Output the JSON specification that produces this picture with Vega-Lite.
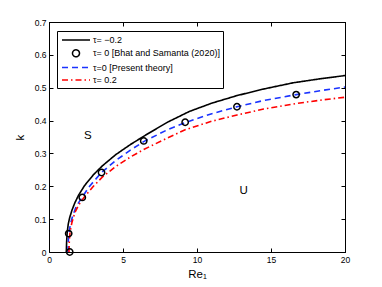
{
  "$schema": "https://vega.github.io/schema/vega-lite/v6.json",
  "width": 296,
  "height": 230,
  "autosize": "none",
  "padding": {"left": 49, "top": 22, "right": 37, "bottom": 35},
  "background": "white",
  "config": {
    "font": "Liberation Sans",
    "view": {"stroke": "black", "strokeWidth": 1},
    "axis": {
      "grid": false,
      "tickSize": -4,
      "tickColor": "black",
      "domainColor": "black",
      "labelFont": "Liberation Sans",
      "labelFontSize": 8.5,
      "labelColor": "black",
      "labelFlush": false,
      "labelOverlap": false,
      "titleFont": "Liberation Sans",
      "titleFontWeight": "normal",
      "titleColor": "black",
      "titleFontSize": 11.5
    }
  },
  "datasets": {
    "lines": [
      {"s": "τ= −0.2", "Re": 1.17, "k": 0},
      {"s": "τ= −0.2", "Re": 1.19, "k": 0.03},
      {"s": "τ= −0.2", "Re": 1.23, "k": 0.06},
      {"s": "τ= −0.2", "Re": 1.3, "k": 0.085},
      {"s": "τ= −0.2", "Re": 1.4, "k": 0.105},
      {"s": "τ= −0.2", "Re": 1.55, "k": 0.127},
      {"s": "τ= −0.2", "Re": 1.75, "k": 0.15},
      {"s": "τ= −0.2", "Re": 2.0, "k": 0.173},
      {"s": "τ= −0.2", "Re": 2.4, "k": 0.202},
      {"s": "τ= −0.2", "Re": 3.0, "k": 0.235},
      {"s": "τ= −0.2", "Re": 3.6, "k": 0.262},
      {"s": "τ= −0.2", "Re": 4.5, "k": 0.296},
      {"s": "τ= −0.2", "Re": 5.5, "k": 0.327},
      {"s": "τ= −0.2", "Re": 6.5, "k": 0.355},
      {"s": "τ= −0.2", "Re": 8.0, "k": 0.395},
      {"s": "τ= −0.2", "Re": 9.5, "k": 0.428},
      {"s": "τ= −0.2", "Re": 11, "k": 0.453},
      {"s": "τ= −0.2", "Re": 12.7, "k": 0.476},
      {"s": "τ= −0.2", "Re": 14.5, "k": 0.496},
      {"s": "τ= −0.2", "Re": 16.5, "k": 0.515},
      {"s": "τ= −0.2", "Re": 18.3, "k": 0.527},
      {"s": "τ= −0.2", "Re": 20, "k": 0.537},
      {"s": "τ=0 [Present theory]", "Re": 1.28, "k": 0},
      {"s": "τ=0 [Present theory]", "Re": 1.3, "k": 0.03},
      {"s": "τ=0 [Present theory]", "Re": 1.34, "k": 0.056},
      {"s": "τ=0 [Present theory]", "Re": 1.45, "k": 0.085},
      {"s": "τ=0 [Present theory]", "Re": 1.6, "k": 0.11},
      {"s": "τ=0 [Present theory]", "Re": 1.85, "k": 0.14},
      {"s": "τ=0 [Present theory]", "Re": 2.25, "k": 0.167},
      {"s": "τ=0 [Present theory]", "Re": 2.7, "k": 0.198},
      {"s": "τ=0 [Present theory]", "Re": 3.55, "k": 0.242},
      {"s": "τ=0 [Present theory]", "Re": 4.5, "k": 0.278},
      {"s": "τ=0 [Present theory]", "Re": 5.5, "k": 0.31},
      {"s": "τ=0 [Present theory]", "Re": 6.4, "k": 0.336},
      {"s": "τ=0 [Present theory]", "Re": 8.0, "k": 0.372},
      {"s": "τ=0 [Present theory]", "Re": 9.2, "k": 0.394},
      {"s": "τ=0 [Present theory]", "Re": 11, "k": 0.421},
      {"s": "τ=0 [Present theory]", "Re": 12.7, "k": 0.442},
      {"s": "τ=0 [Present theory]", "Re": 14.5, "k": 0.461},
      {"s": "τ=0 [Present theory]", "Re": 16.7, "k": 0.479},
      {"s": "τ=0 [Present theory]", "Re": 18.5, "k": 0.492},
      {"s": "τ=0 [Present theory]", "Re": 20, "k": 0.502},
      {"s": "τ= 0.2", "Re": 1.35, "k": 0},
      {"s": "τ= 0.2", "Re": 1.37, "k": 0.03},
      {"s": "τ= 0.2", "Re": 1.42, "k": 0.06},
      {"s": "τ= 0.2", "Re": 1.55, "k": 0.09},
      {"s": "τ= 0.2", "Re": 1.75, "k": 0.12},
      {"s": "τ= 0.2", "Re": 2.0, "k": 0.143},
      {"s": "τ= 0.2", "Re": 2.4, "k": 0.168},
      {"s": "τ= 0.2", "Re": 3.0, "k": 0.2},
      {"s": "τ= 0.2", "Re": 3.6, "k": 0.228},
      {"s": "τ= 0.2", "Re": 4.5, "k": 0.26},
      {"s": "τ= 0.2", "Re": 5.5, "k": 0.289},
      {"s": "τ= 0.2", "Re": 6.4, "k": 0.312},
      {"s": "τ= 0.2", "Re": 8.0, "k": 0.347},
      {"s": "τ= 0.2", "Re": 9.2, "k": 0.372},
      {"s": "τ= 0.2", "Re": 11, "k": 0.398},
      {"s": "τ= 0.2", "Re": 12.7, "k": 0.417},
      {"s": "τ= 0.2", "Re": 14.5, "k": 0.435},
      {"s": "τ= 0.2", "Re": 16.7, "k": 0.452},
      {"s": "τ= 0.2", "Re": 18.5, "k": 0.463},
      {"s": "τ= 0.2", "Re": 20, "k": 0.471}
    ],
    "circles": [
      {"s": "τ= 0 [Bhat and Samanta (2020)]", "Re": 1.4, "k": 0},
      {"s": "τ= 0 [Bhat and Samanta (2020)]", "Re": 1.33, "k": 0.056},
      {"s": "τ= 0 [Bhat and Samanta (2020)]", "Re": 2.25, "k": 0.166},
      {"s": "τ= 0 [Bhat and Samanta (2020)]", "Re": 3.55, "k": 0.242},
      {"s": "τ= 0 [Bhat and Samanta (2020)]", "Re": 6.4, "k": 0.338},
      {"s": "τ= 0 [Bhat and Samanta (2020)]", "Re": 9.2, "k": 0.395},
      {"s": "τ= 0 [Bhat and Samanta (2020)]", "Re": 12.7, "k": 0.442},
      {"s": "τ= 0 [Bhat and Samanta (2020)]", "Re": 16.7, "k": 0.479}
    ],
    "labels": [
      {"t": "S", "Re": 2.63, "k": 0.353},
      {"t": "U", "Re": 13.16, "k": 0.187}
    ]
  },
  "layer": [
    {
      "data": {"name": "lines"},
      "mark": {"type": "line", "strokeWidth": 1.6, "clip": true},
      "encoding": {
        "x": {"field": "Re", "type": "quantitative", "scale": {"domain": [0, 20], "nice": false, "zero": false},
              "axis": {"orient": "bottom", "values": [0, 5, 10, 15, 20], "title": "Re₁", "labelPadding": 7, "titlePadding": 5}},
        "y": {"field": "k", "type": "quantitative", "scale": {"domain": [0, 0.7], "nice": false},
              "axis": {"orient": "left", "values": [0, 0.1, 0.2, 0.3, 0.4, 0.5, 0.6, 0.7], "format": "~g", "title": "k", "labelPadding": 7, "titlePadding": 9}},
        "color": {"field": "s", "type": "nominal",
          "scale": {"domain": ["τ= −0.2", "τ= 0 [Bhat and Samanta (2020)]", "τ=0 [Present theory]", "τ= 0.2"],
                    "range": ["#000000", "#000000", "#1a33ff", "#ff0000"]},
          "legend": {
            "orient": "none", "legendX": 8, "legendY": 9, "title": null,
            "strokeColor": "black", "fillColor": "white", "padding": 3,
            "rowPadding": 1.3, "symbolSize": 100, "symbolOffset": 10, "labelOffset": 11,
            "symbolStrokeWidth": 1.5, "labelFontSize": 9, "labelFont": "Liberation Sans",
            "labelColor": "black", "labelLimit": 300,
            "encode": {
              "symbols": {
                "update": {
                  "shape": {"signal": "datum.index == 1 ? 'M0.7,0A0.7,0.7,0,1,1,-0.7,0A0.7,0.7,0,1,1,0.7,0Z' : 'M-2.8,0H2.8'"},
                  "strokeDash": {"signal": "datum.index == 2 ? [6,4] : datum.index == 3 ? [6,3,1.5,3] : [1,0]"},
                  "fill": {"value": "transparent"},
                  "stroke": {"scale": "color", "field": "value"},
                  "strokeWidth": {"value": 1.5},
                  "opacity": {"value": 1}
                }
              }
            }
          }
        },
        "strokeDash": {"field": "s", "type": "nominal",
          "scale": {"domain": ["τ= −0.2", "τ=0 [Present theory]", "τ= 0.2"],
                    "range": [[1, 0], [6, 4], [6, 3, 1.5, 3]]},
          "legend": null}
      }
    },
    {
      "data": {"name": "circles"},
      "mark": {"type": "point", "shape": "circle", "filled": false, "size": 40, "strokeWidth": 1.5, "opacity": 1},
      "encoding": {
        "x": {"field": "Re", "type": "quantitative", "axis": null},
        "y": {"field": "k", "type": "quantitative", "axis": null},
        "color": {"field": "s", "type": "nominal"}
      }
    },
    {
      "data": {"name": "labels"},
      "mark": {"type": "text", "fontSize": 11.5, "font": "Liberation Sans", "color": "black", "align": "center", "baseline": "middle"},
      "encoding": {
        "x": {"field": "Re", "type": "quantitative", "axis": null},
        "y": {"field": "k", "type": "quantitative", "axis": null},
        "text": {"field": "t"}
      }
    },
    {
      "data": {"name": "labels"},
      "mark": {"type": "point", "opacity": 0},
      "encoding": {
        "x": {"field": "Re", "type": "quantitative",
              "axis": {"orient": "top", "values": [0, 5, 10, 15, 20], "labels": false, "title": null}},
        "y": {"field": "k", "type": "quantitative",
              "axis": {"orient": "right", "values": [0, 0.1, 0.2, 0.3, 0.4, 0.5, 0.6, 0.7], "labels": false, "title": null}}
      }
    }
  ],
  "resolve": {"axis": {"x": "independent", "y": "independent"}}
}
